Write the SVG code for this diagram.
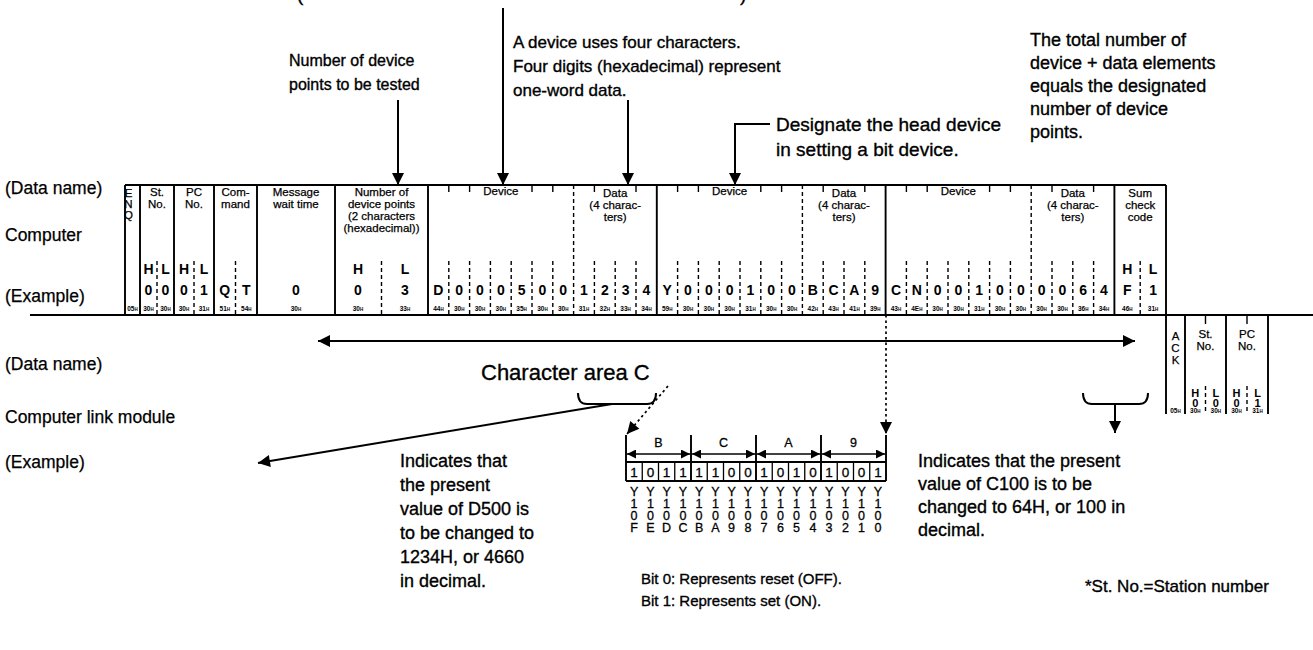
<svg xmlns="http://www.w3.org/2000/svg" width="1313" height="650" viewBox="0 0 1313 650">
<defs>
<marker id="ah" viewBox="0 0 10 10" refX="10" refY="5" markerWidth="15" markerHeight="12" markerUnits="userSpaceOnUse" orient="auto-start-reverse"><path d="M0,0 L10,5 L0,10 z" fill="#000"/></marker>
<marker id="as" viewBox="0 0 10 10" refX="10" refY="5" markerWidth="10" markerHeight="9" markerUnits="userSpaceOnUse" orient="auto-start-reverse"><path d="M0,0 L10,5 L0,10 z" fill="#000"/></marker>
</defs>
<style>
text{font-family:"Liberation Sans",Arial,Helvetica,sans-serif;fill:#000}
.lbl{font-size:17.5px;stroke:#000;stroke-width:0.25px}
.hd{font-size:11.5px;text-anchor:middle;stroke:#000;stroke-width:0.25px}
.ex{font-size:14px;text-anchor:middle;font-weight:bold}
.exs{font-size:11px;text-anchor:middle;font-weight:bold}
.hx{font-size:6.5px;text-anchor:middle;font-weight:bold}
.hx tspan{font-size:4.5px}
.ann{font-size:17px;stroke:#000;stroke-width:0.35px}
.ann2{font-size:18px;stroke:#000;stroke-width:0.35px}
.ln{stroke:#000;stroke-width:1.9;fill:none}
.thin{stroke:#000;stroke-width:1.3;fill:none}
.dsh{stroke:#000;stroke-width:1.4;stroke-dasharray:4 3;fill:none}
.tk{stroke:#000;stroke-width:1.4;fill:none}
.dot{stroke:#000;stroke-width:1.7;stroke-dasharray:2.5 3;fill:none}
.arr{stroke:#000;stroke-width:2;fill:none}
.bt{font-size:13.5px;text-anchor:middle;stroke:#000;stroke-width:0.3px}
.yb{font-size:12.5px;text-anchor:middle;stroke:#000;stroke-width:0.3px}
</style>

<!-- side labels -->
<g id="side-labels">
<text class="lbl" x="5" y="194">(Data name)</text>
<text class="lbl" x="5" y="241">Computer</text>
<text class="lbl" x="5" y="302">(Example)</text>
<text class="lbl" x="5" y="370">(Data name)</text>
<text class="lbl" x="5" y="423">Computer link module</text>
<text class="lbl" x="5" y="468">(Example)</text>
</g>

<!-- computer frame -->
<g id="computer-frame">
<path class="ln" d="M125 185 H1166 M30 315 H1313 M125 185 V315 M140 185 V315 M174 185 V315 M214 185 V315 M257 185 V315 M335 185 V315 M428 185 V315 M656.8 185 V315 M885.6 185 V315 M1114.4 185 V315 M1166 185 V315"/>
<path class="dsh" d="M573.6 185 V315 M802.4 185 V315 M1031.2 185 V315"/>
<path class="tk" d="M448.8 185 v7 M469.6 185 v7 M532 185 v7 M552.8 185 v7 M594.4 185 v7 M636 185 v7 M677.6 185 v7 M698.4 185 v7 M760.8 185 v7 M781.6 185 v7 M823.2 185 v7 M864.8 185 v7 M906.4 185 v7 M927.2 185 v7 M989.6 185 v7 M1010.4 185 v7 M1052 185 v7 M1093.6 185 v7"/>
<path class="dsh" d="M157 261 V315 M194 261 V315 M235.5 261 V315 M381.5 261 V315 M1140.2 261 V315 M448.8 261 V315 M469.6 261 V315 M490.4 261 V315 M511.2 261 V315 M532 261 V315 M552.8 261 V315 M594.4 261 V315 M615.2 261 V315 M636 261 V315 M677.6 261 V315 M698.4 261 V315 M719.2 261 V315 M740 261 V315 M760.8 261 V315 M781.6 261 V315 M823.2 261 V315 M844 261 V315 M864.8 261 V315 M906.4 261 V315 M927.2 261 V315 M948 261 V315 M968.8 261 V315 M989.6 261 V315 M1010.4 261 V315 M1052 261 V315 M1072.8 261 V315 M1093.6 261 V315"/>
<text class="hd" x="128.5" y="197" text-anchor="start">E</text>
<text class="hd" x="128.5" y="208" text-anchor="start">N</text>
<text class="hd" x="128.5" y="219" text-anchor="start">Q</text>
<text class="hd" x="157" y="196">St.</text><text class="hd" x="157" y="208">No.</text>
<text class="hd" x="194" y="196">PC</text><text class="hd" x="194" y="208">No.</text>
<text class="hd" x="235.5" y="196">Com-</text><text class="hd" x="235.5" y="208">mand</text>
<text class="hd" x="296" y="196">Message</text><text class="hd" x="296" y="208">wait time</text>
<text class="hd" x="381.5" y="196">Number of</text><text class="hd" x="381.5" y="208">device points</text><text class="hd" x="381.5" y="220">(2 characters</text><text class="hd" x="381.5" y="232">(hexadecimal))</text>
<text class="hd" x="500.8" y="195">Device</text><text class="hd" x="729.6" y="195">Device</text><text class="hd" x="958.4" y="195">Device</text>
<text class="hd" x="615.2" y="197">Data</text><text class="hd" x="615.2" y="209">(4 charac-</text><text class="hd" x="615.2" y="221">ters)</text>
<text class="hd" x="844" y="197">Data</text><text class="hd" x="844" y="209">(4 charac-</text><text class="hd" x="844" y="221">ters)</text>
<text class="hd" x="1072.8" y="197">Data</text><text class="hd" x="1072.8" y="209">(4 charac-</text><text class="hd" x="1072.8" y="221">ters)</text>
<text class="hd" x="1140.2" y="197">Sum</text><text class="hd" x="1140.2" y="209">check</text><text class="hd" x="1140.2" y="221">code</text>
<text class="ex" x="148.5 165.5 184 204" y="274">HLHL</text>
<text class="ex" x="358 405" y="274">HL</text>
<text class="ex" x="1127.3 1153.1" y="274">HL</text>
<text class="ex" x="148.5 165.5 184 204 224.8 246.3" y="295">0001QT</text>
<text class="ex" x="296" y="295">0</text>
<text class="ex" x="358 405" y="295">03</text>
<text class="ex" x="1127.3 1153.1" y="295">F1</text>
<text class="ex" x="438.4 459.2 480 500.8 521.6 542.4 563.2 584 604.8 625.6 646.4" y="295">D0005001234</text>
<text class="ex" x="667.2 688 708.8 729.6 750.4 771.2 792 812.8 833.6 854.4 875.2" y="295">Y000100BCA9</text>
<text class="ex" x="896 916.8 937.6 958.4 979.2 1000 1020.8 1041.6 1062.4 1083.2 1104" y="295">CN001000064</text>
<g>
<text class="hx" x="132.5" y="311">05<tspan>H</tspan></text>
<text class="hx" x="148.5" y="311">30<tspan>H</tspan></text>
<text class="hx" x="165.5" y="311">30<tspan>H</tspan></text>
<text class="hx" x="184" y="311">30<tspan>H</tspan></text>
<text class="hx" x="204" y="311">31<tspan>H</tspan></text>
<text class="hx" x="224.8" y="311">51<tspan>H</tspan></text>
<text class="hx" x="246.3" y="311">54<tspan>H</tspan></text>
<text class="hx" x="296" y="311">30<tspan>H</tspan></text>
<text class="hx" x="358" y="311">30<tspan>H</tspan></text>
<text class="hx" x="405" y="311">33<tspan>H</tspan></text>
<text class="hx" x="438.4" y="311">44<tspan>H</tspan></text>
<text class="hx" x="459.2" y="311">30<tspan>H</tspan></text>
<text class="hx" x="480" y="311">30<tspan>H</tspan></text>
<text class="hx" x="500.8" y="311">30<tspan>H</tspan></text>
<text class="hx" x="521.6" y="311">35<tspan>H</tspan></text>
<text class="hx" x="542.4" y="311">30<tspan>H</tspan></text>
<text class="hx" x="563.2" y="311">30<tspan>H</tspan></text>
<text class="hx" x="584" y="311">31<tspan>H</tspan></text>
<text class="hx" x="604.8" y="311">32<tspan>H</tspan></text>
<text class="hx" x="625.6" y="311">33<tspan>H</tspan></text>
<text class="hx" x="646.4" y="311">34<tspan>H</tspan></text>
<text class="hx" x="667.2" y="311">59<tspan>H</tspan></text>
<text class="hx" x="688" y="311">30<tspan>H</tspan></text>
<text class="hx" x="708.8" y="311">30<tspan>H</tspan></text>
<text class="hx" x="729.6" y="311">30<tspan>H</tspan></text>
<text class="hx" x="750.4" y="311">31<tspan>H</tspan></text>
<text class="hx" x="771.2" y="311">30<tspan>H</tspan></text>
<text class="hx" x="792" y="311">30<tspan>H</tspan></text>
<text class="hx" x="812.8" y="311">42<tspan>H</tspan></text>
<text class="hx" x="833.6" y="311">43<tspan>H</tspan></text>
<text class="hx" x="854.4" y="311">41<tspan>H</tspan></text>
<text class="hx" x="875.2" y="311">39<tspan>H</tspan></text>
<text class="hx" x="896" y="311">43<tspan>H</tspan></text>
<text class="hx" x="916.8" y="311">4E<tspan>H</tspan></text>
<text class="hx" x="937.6" y="311">30<tspan>H</tspan></text>
<text class="hx" x="958.4" y="311">30<tspan>H</tspan></text>
<text class="hx" x="979.2" y="311">31<tspan>H</tspan></text>
<text class="hx" x="1000" y="311">30<tspan>H</tspan></text>
<text class="hx" x="1020.8" y="311">30<tspan>H</tspan></text>
<text class="hx" x="1041.6" y="311">30<tspan>H</tspan></text>
<text class="hx" x="1062.4" y="311">30<tspan>H</tspan></text>
<text class="hx" x="1083.2" y="311">36<tspan>H</tspan></text>
<text class="hx" x="1104" y="311">34<tspan>H</tspan></text>
<text class="hx" x="1127.3" y="311">46<tspan>H</tspan></text>
<text class="hx" x="1153.1" y="311">31<tspan>H</tspan></text>
</g>
</g>

<!-- computer link module frame -->
<g id="module-frame">
<path class="ln" d="M1166 315 V414 M1185 315 V414 M1226 315 V414 M1268 315 V414"/>
<path class="tk" d="M1205.5 315 v9 M1247 315 v9"/>
<path class="dsh" d="M1205.5 386 V414 M1247 386 V414"/>
<text class="hd" x="1175.5" y="340">A</text><text class="hd" x="1175.5" y="352">C</text><text class="hd" x="1175.5" y="364">K</text>
<text class="hd" x="1205.5" y="338">St.</text><text class="hd" x="1205.5" y="350">No.</text>
<text class="hd" x="1247" y="338">PC</text><text class="hd" x="1247" y="350">No.</text>
<text class="exs" x="1195.3 1215.8 1236.5 1257.5" y="397">HLHL</text>
<text class="exs" x="1195.3 1215.8 1236.5 1257.5" y="407">0001</text>
<text class="hx" x="1175.5" y="413">05<tspan>H</tspan></text>
<text class="hx" x="1195.3" y="413">30<tspan>H</tspan></text>
<text class="hx" x="1215.8" y="413">30<tspan>H</tspan></text>
<text class="hx" x="1236.5" y="413">30<tspan>H</tspan></text>
<text class="hx" x="1257.5" y="413">31<tspan>H</tspan></text>
</g>

<!-- annotations -->
<g id="note-top-cut">
<text class="ann2" style="font-size:19px" x="297" y="1">(</text>
<text class="ann2" style="font-size:19px" x="740" y="1">)</text>
</g>
<g id="note-points">
<text class="ann" style="font-size:16px" x="289" y="66">Number of device</text>
<text class="ann" style="font-size:16px" x="289" y="90">points to be tested</text>
</g>
<g id="note-device">
<text class="ann" x="513" y="48">A device uses four characters.</text>
<text class="ann" x="513" y="72">Four digits (hexadecimal) represent</text>
<text class="ann" x="513" y="96">one-word data.</text>
</g>
<g id="note-head">
<text class="ann2" style="font-size:19px" x="776" y="131">Designate the head device</text>
<text class="ann2" style="font-size:19px" x="776" y="156">in setting a bit device.</text>
</g>
<g id="note-total">
<text class="ann2" x="1030" y="46">The total number of</text>
<text class="ann2" x="1030" y="69">device + data elements</text>
<text class="ann2" x="1030" y="92">equals the designated</text>
<text class="ann2" x="1030" y="115">number of device</text>
<text class="ann2" x="1030" y="138">points.</text>
</g>
<g id="note-area">
<text class="ann2" style="font-size:22px" x="481" y="380">Character area C</text>
</g>
<g id="note-d500">
<text class="ann2" x="400" y="467">Indicates that</text>
<text class="ann2" x="400" y="491">the present</text>
<text class="ann2" x="400" y="515">value of D500 is</text>
<text class="ann2" x="400" y="539">to be changed to</text>
<text class="ann2" x="400" y="563">1234H, or 4660</text>
<text class="ann2" x="400" y="587">in decimal.</text>
</g>
<g id="note-c100">
<text class="ann2" x="918" y="467">Indicates that the present</text>
<text class="ann2" x="918" y="490">value of C100 is to be</text>
<text class="ann2" x="918" y="513">changed to 64H, or 100 in</text>
<text class="ann2" x="918" y="536">decimal.</text>
</g>
<g id="note-station">
<text class="ann" x="1085" y="592">*St. No.=Station number</text>
</g>

<!-- bit table -->
<g id="bit-table">
<path class="ln" d="M626 435 V481 M691 435 V481 M756 435 V481 M821 435 V481 M886 435 V481 M626 462 H886 M626 481 H886"/>
<path class="thin" d="M642.25 462 V481 M658.5 462 V481 M674.75 462 V481 M707.25 462 V481 M723.5 462 V481 M739.75 462 V481 M772.25 462 V481 M788.5 462 V481 M804.75 462 V481 M837.25 462 V481 M853.5 462 V481 M869.75 462 V481"/>
<path class="thin" marker-start="url(#as)" marker-end="url(#as)" d="M627 454 H690"/>
<path class="thin" marker-start="url(#as)" marker-end="url(#as)" d="M692 454 H755"/>
<path class="thin" marker-start="url(#as)" marker-end="url(#as)" d="M757 454 H820"/>
<path class="thin" marker-start="url(#as)" marker-end="url(#as)" d="M822 454 H885"/>
<text class="yb" x="658.5" y="447">B</text><text class="yb" x="723.5" y="447">C</text><text class="yb" x="788.5" y="447">A</text><text class="yb" x="853.5" y="447">9</text>
<text class="bt" x="634.1 650.4 666.6 682.9 699.1 715.4 731.6 747.9 764.1 780.4 796.6 812.9 829.1 845.4 861.6 877.9" y="477">1011110010101001</text>
<text class="yb" x="634.1 650.4 666.6 682.9 699.1 715.4 731.6 747.9 764.1 780.4 796.6 812.9 829.1 845.4 861.6 877.9" y="496">YYYYYYYYYYYYYYYY</text>
<text class="yb" x="634.1 650.4 666.6 682.9 699.1 715.4 731.6 747.9 764.1 780.4 796.6 812.9 829.1 845.4 861.6 877.9" y="508">1111111111111111</text>
<text class="yb" x="634.1 650.4 666.6 682.9 699.1 715.4 731.6 747.9 764.1 780.4 796.6 812.9 829.1 845.4 861.6 877.9" y="520">0000000000000000</text>
<text class="yb" x="634.1 650.4 666.6 682.9 699.1 715.4 731.6 747.9 764.1 780.4 796.6 812.9 829.1 845.4 861.6 877.9" y="532">FEDCBA9876543210</text>
<text class="ann" style="font-size:15px" x="641" y="584">Bit 0: Represents reset (OFF).</text>
<text class="ann" style="font-size:15px" x="641" y="606">Bit 1: Represents set (ON).</text>
</g>

<!-- connectors -->
<g id="connectors">
<path class="arr" marker-end="url(#ah)" d="M503 8 V185"/>
<path class="arr" marker-end="url(#ah)" d="M398 100 V185"/>
<path class="arr" marker-end="url(#ah)" d="M628 100 V185"/>
<path class="arr" marker-end="url(#ah)" d="M770 124 H735 V185"/>
<path class="arr" stroke-width="2.4" marker-start="url(#ah)" marker-end="url(#ah)" d="M318 341 H1135"/>
<path class="arr" d="M578 393 Q578 404 587 404 H647 Q656 404 656 393"/>
<path class="arr" marker-end="url(#ah)" d="M612 404 L258 463"/>
<path class="arr" d="M1083 393 Q1083 404 1092 404 H1139 Q1148 404 1148 393"/>
<path class="arr" marker-end="url(#ah)" d="M1115 404 V433"/>
<path class="dot" marker-end="url(#ah)" d="M668 386 L627 434"/>
<path class="dot" marker-end="url(#ah)" d="M886 315 V434"/>
</g>
</svg>
